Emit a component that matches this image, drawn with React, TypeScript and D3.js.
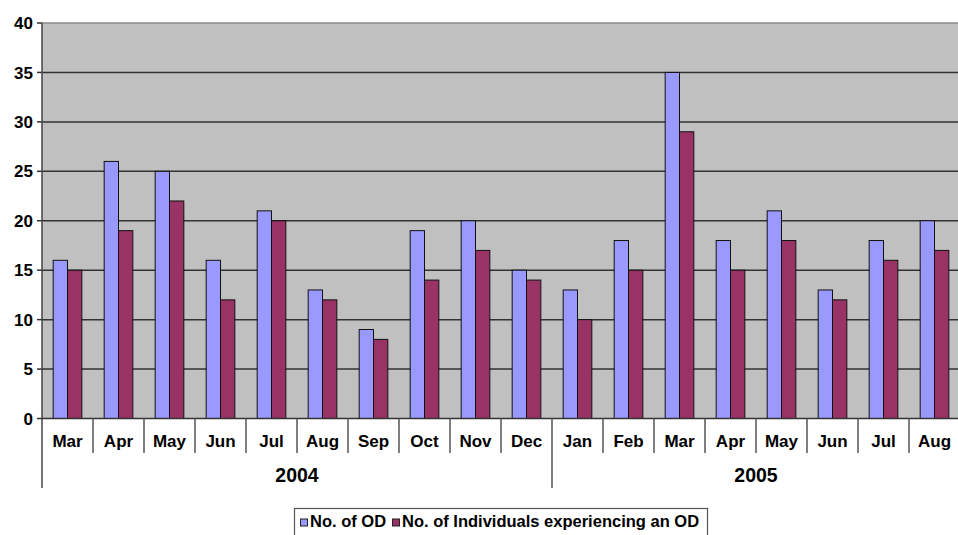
import React from "react";
import * as d3 from "d3";

const months = ["Mar", "Apr", "May", "Jun", "Jul", "Aug", "Sep", "Oct", "Nov", "Dec", "Jan", "Feb", "Mar", "Apr", "May", "Jun", "Jul", "Aug"];
const years = ["2004", "2005"];
const yearSpan = [10, 8];
const overdoses = [16, 26, 25, 16, 21, 13, 9, 19, 20, 15, 13, 18, 35, 18, 21, 13, 18, 20];
const individuals = [15, 19, 22, 12, 20, 12, 8, 14, 17, 14, 10, 15, 29, 15, 18, 12, 16, 17];
const yTicks = [0, 5, 10, 15, 20, 25, 30, 35, 40];
const seriesNames = ["No. of OD", "No. of Individuals experiencing an OD"];
const seriesColors = ["#9999FF", "#993366"];

const W = 958;
const H = 535;
const left = 42;
const right = 958 + 2;
const top = 23;
const bottom = 418.5;
const font = "Arial, 'Liberation Sans', sans-serif";

export default function App() {
  const keys = months.map((_, i) => String(i));
  const x = d3.scaleBand<string>().domain(keys).range([left, right]).paddingInner(0).paddingOuter(0);
  const bw = x.bandwidth();
  // two bars per month, with a 150% gap shared around the cluster
  const inner = d3.scaleBand<string>().domain(["0", "1"]).range([0, bw]).paddingInner(0).paddingOuter(0.78);
  const y = d3.scaleLinear().domain([0, 40]).range([bottom, top]);
  const series = [overdoses, individuals];

  // first month index of each year group
  const yearBounds: number[] = [];
  let acc = 0;
  yearSpan.forEach((n) => {
    yearBounds.push(acc);
    acc += n;
  });

  return (
    <svg width={W} height={H} style={{ position: "absolute", left: 0, top: 0, background: "#fff" }}>
      <rect x={left} y={top} width={right - left} height={bottom - top} fill="#C0C0C0" />
      {yTicks.map((t) => (
        <g key={t}>
          {t > 0 && (
            <line x1={left} x2={right} y1={y(t)} y2={y(t)} stroke={t === 40 ? "#8a8a8a" : "#333"} strokeWidth={1.5} />
          )}
          <line x1={left - 5} x2={left} y1={y(t)} y2={y(t)} stroke="#333" strokeWidth={1.5} />
          <text x={left - 9} y={y(t)} dy="0.36em" textAnchor="end" fontFamily={font} fontWeight="bold" fontSize={17} fill="#000">
            {t}
          </text>
        </g>
      ))}
      {series.map((vals, s) =>
        vals.map((v, i) => {
          const bx = (x(String(i)) ?? 0) + (inner(String(s)) ?? 0);
          return (
            <rect
              key={`${s}-${i}`}
              x={bx}
              y={y(v)}
              width={inner.bandwidth()}
              height={y(0) - y(v)}
              fill={seriesColors[s]}
              stroke="#111"
              strokeWidth={1}
            />
          );
        })
      )}
      {/* axes */}
      <line x1={left} x2={left} y1={top} y2={488} stroke="#444" strokeWidth={1.5} />
      <line x1={left} x2={right} y1={bottom} y2={bottom} stroke="#333" strokeWidth={1.5} />
      {keys.map((k, i) => {
        const sx = (x(k) ?? 0) + bw;
        const isYearEnd = yearBounds.includes(i + 1);
        return i < keys.length - 1 ? (
          <line key={"sep" + k} x1={sx} x2={sx} y1={bottom} y2={isYearEnd ? 488 : 453} stroke="#555" strokeWidth={1.5} />
        ) : null;
      })}
      {months.map((m, i) => (
        <text
          key={"m" + i}
          x={(x(String(i)) ?? 0) + bw / 2}
          y={446.5}
          textAnchor="middle"
          fontFamily={font}
          fontWeight="bold"
          fontSize={17}
          fill="#000"
        >
          {m}
        </text>
      ))}
      {years.map((yr, j) => {
        const start = x(String(yearBounds[j])) ?? 0;
        const cx = start + (yearSpan[j] * bw) / 2;
        return (
          <text key={yr} x={cx} y={482} textAnchor="middle" fontFamily={font} fontWeight="bold" fontSize={19.5} fill="#000">
            {yr}
          </text>
        );
      })}
      {/* legend */}
      <rect x={294.5} y={508.5} width={413} height={40} fill="#fff" stroke="#555" strokeWidth={1.2} />
      <rect x={300.5} y={519} width={7} height={7} fill={seriesColors[0]} stroke="#222" strokeWidth={1} />
      <text x={310} y={527} fontFamily={font} fontWeight="bold" fontSize={16.5} fill="#000">
        {seriesNames[0]}
      </text>
      <rect x={392.5} y={519} width={7} height={7} fill={seriesColors[1]} stroke="#222" strokeWidth={1} />
      <text x={402} y={527} fontFamily={font} fontWeight="bold" fontSize={16.5} fill="#000">
        {seriesNames[1]}
      </text>
    </svg>
  );
}
